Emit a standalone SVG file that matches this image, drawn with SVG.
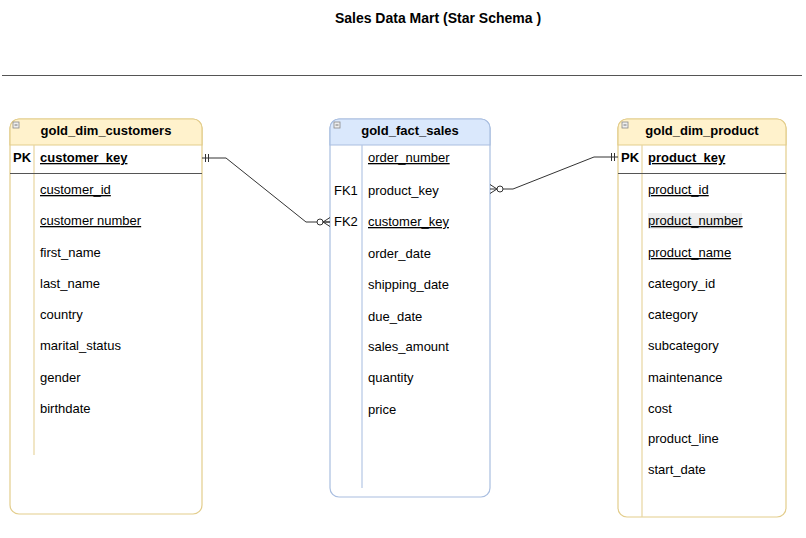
<svg xmlns="http://www.w3.org/2000/svg" width="806" height="538" viewBox="0 0 806 538">
<style>
text{font-family:"Liberation Sans",Arial,sans-serif;font-size:13px;fill:#000}
.h{font-weight:bold;text-anchor:middle}
.b{font-weight:bold}
.u{text-decoration:underline}
.ybox{fill:#fff;stroke:#e3cd8c;stroke-width:1.2}
.yhead{fill:#fff2cc;stroke:#e3cd8c;stroke-width:1.2}
.bbox{fill:#fff;stroke:#a9bee0;stroke-width:1.2}
.bhead{fill:#dae8fc;stroke:#a9bee0;stroke-width:1.2}
.ydiv{stroke:#e8d6a0;stroke-width:1.2}
.bdiv{stroke:#b4c6e4;stroke-width:1.2}
.sep{stroke:#555;stroke-width:1}
.icon{fill:#eee;stroke:#888;stroke-width:0.8}
.c{fill:none;stroke:#333;stroke-width:1}
</style>
<text x="438" y="23" class="h" style="font-size:14px">Sales Data Mart (Star Schema )</text>
<line x1="2" y1="75.5" x2="802" y2="75.5" stroke="#555" stroke-width="1.2"/>

<g id="gold_dim_customers">
<rect x="10" y="119" width="192" height="395" rx="9" class="ybox"/>
<path d="M10 145 V128 A9 9 0 0 1 19 119 H193 A9 9 0 0 1 202 128 V145 Z" class="yhead"/>
<rect x="13" y="122" width="6" height="6" class="icon"/><line x1="14.5" y1="125" x2="17.5" y2="125" stroke="#555" stroke-width="0.8"/>
<text x="106" y="135" class="h">gold_dim_customers</text>
<line x1="34" y1="145" x2="34" y2="455" class="ydiv"/>
<line x1="10" y1="173.5" x2="202" y2="173.5" class="sep"/>
<text x="13" y="162" class="b">PK</text>
<text x="40" y="162" class="b u">customer_key</text>
<text x="40" y="194" class="u">customer_id</text>
<text x="40" y="225" class="u">customer number</text>
<text x="40" y="257">first_name</text>
<text x="40" y="288">last_name</text>
<text x="40" y="319">country</text>
<text x="40" y="350">marital_status</text>
<text x="40" y="382">gender</text>
<text x="40" y="413">birthdate</text>
</g>

<g id="gold_fact_sales">
<rect x="330" y="119" width="160" height="378" rx="9" class="bbox"/>
<path d="M330 145 V128 A9 9 0 0 1 339 119 H481 A9 9 0 0 1 490 128 V145 Z" class="bhead"/>
<rect x="334" y="122" width="6" height="6" class="icon"/><line x1="335.5" y1="125" x2="338.5" y2="125" stroke="#555" stroke-width="0.8"/>
<text x="410" y="135" class="h">gold_fact_sales</text>
<line x1="362" y1="145" x2="362" y2="488" class="bdiv"/>
<text x="368" y="162" class="u">order_number</text>
<text x="334" y="195">FK1</text>
<text x="368" y="195">product_key</text>
<text x="334" y="226">FK2</text>
<text x="368" y="226" class="u">customer_key</text>
<text x="368" y="258">order_date</text>
<text x="368" y="289">shipping_date</text>
<text x="368" y="321">due_date</text>
<text x="368" y="351">sales_amount</text>
<text x="368" y="382">quantity</text>
<text x="368" y="414">price</text>
</g>

<g id="gold_dim_product">
<rect x="618" y="119" width="168" height="398" rx="9" class="ybox"/>
<path d="M618 145 V128 A9 9 0 0 1 627 119 H777 A9 9 0 0 1 786 128 V145 Z" class="yhead"/>
<rect x="622" y="122" width="6" height="6" class="icon"/><line x1="623.5" y1="125" x2="626.5" y2="125" stroke="#555" stroke-width="0.8"/>
<text x="702" y="135" class="h">gold_dim_product</text>
<line x1="642" y1="145" x2="642" y2="517" class="ydiv"/>
<line x1="618" y1="173.5" x2="786" y2="173.5" class="sep"/>
<text x="621" y="162" class="b">PK</text>
<text x="648" y="162" class="b u">product_key</text>
<text x="648" y="194" class="u">product_id</text>
<rect x="648" y="213" width="94" height="16" fill="#eeeeee"/>
<text x="648" y="225" class="u">product_number</text>
<text x="648" y="257" class="u">product_name</text>
<text x="648" y="288">category_id</text>
<text x="648" y="319">category</text>
<text x="648" y="350">subcategory</text>
<text x="648" y="382">maintenance</text>
<text x="648" y="413">cost</text>
<text x="648" y="443">product_line</text>
<text x="648" y="474">start_date</text>
</g>

<g id="connectors">
<path d="M202 158 H226 L306 222 H330" class="c"/>
<line x1="205.5" y1="154" x2="205.5" y2="162" class="c"/>
<line x1="208.5" y1="154" x2="208.5" y2="162" class="c"/>
<circle cx="320" cy="222" r="3" fill="#fff" stroke="#333"/>
<path d="M330 217.5 L323 222 L330 226.5 M323 222 H330" class="c"/>

<path d="M490 189 H513 L594 157 H618" class="c"/>
<path d="M490 184.5 L497 189 L490 193.5" class="c"/>
<circle cx="500" cy="189" r="3" fill="#fff" stroke="#333"/>
<line x1="611.5" y1="153" x2="611.5" y2="161" class="c"/>
<line x1="614.5" y1="153" x2="614.5" y2="161" class="c"/>
</g>
</svg>
